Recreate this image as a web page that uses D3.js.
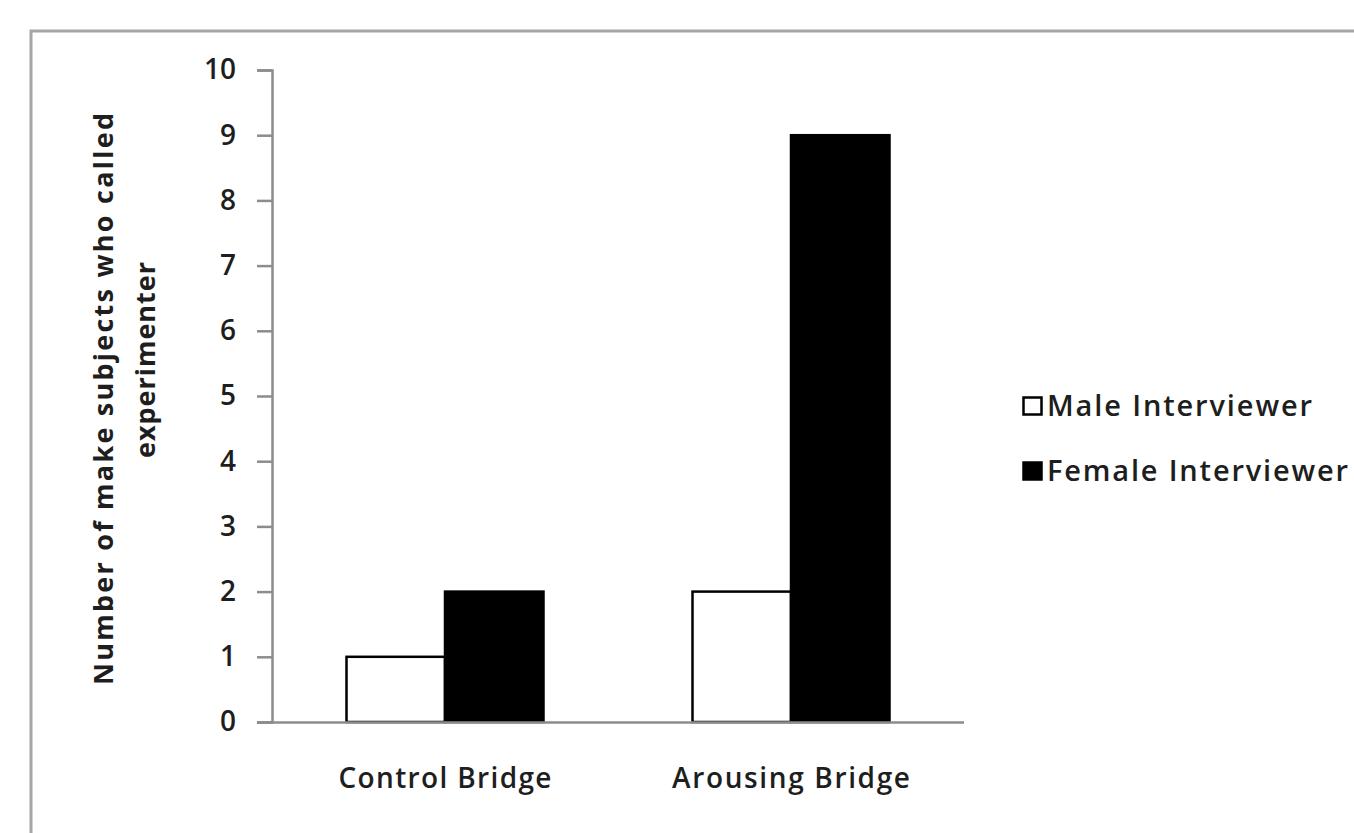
<!DOCTYPE html>
<html>
<head>
<meta charset="utf-8">
<script src="https://cdn.jsdelivr.net/npm/d3@7"></script>
<style>
  html, body { margin: 0; padding: 0; background: #fff; }
  svg { display: block; }
  text { font-family: "Open Sans", Lato, sans-serif; fill: #1e1e1e; }
</style>
</head>
<body>
<svg id="chart" width="1354" height="833"></svg>
<script>
const categories = ["Control Bridge", "Arousing Bridge"];
const seriesNames = ["Male Interviewer", "Female Interviewer"];
const maleValues = [1, 2];
const femaleValues = [2, 9];
const yTicks = [0, 1, 2, 3, 4, 5, 6, 7, 8, 9, 10];
const yLabelLines = ["Number of make subjects who called", "experimenter"];

const svg = d3.select("#chart");

// outer frame
svg.append("rect")
  .attr("x", 31).attr("y", 31)
  .attr("width", 1400).attr("height", 900)
  .attr("fill", "#fff")
  .attr("stroke", "#a6a6a6").attr("stroke-width", 3);

const plot = { left: 272, right: 964, top: 70, bottom: 722 };

const x0 = d3.scaleBand().domain(categories).range([plot.left, plot.right]).paddingInner(0).paddingOuter(0);
const x1 = d3.scaleBand().domain(seriesNames).range([0, 197]);
const y = d3.scaleLinear().domain([0, 10]).range([plot.bottom, plot.top]);

const series = [
  { name: seriesNames[0], values: maleValues, fill: "#fff" },
  { name: seriesNames[1], values: femaleValues, fill: "#000" }
];

// y axis
const yAxis = d3.axisLeft(y).tickValues(yTicks).tickSize(15).tickPadding(21).tickFormat(d3.format("d"));
const gy = svg.append("g").attr("transform", `translate(${plot.left},0)`).call(yAxis);
gy.select(".domain").attr("stroke", "#8c8c8c").attr("stroke-width", 2.5);
gy.selectAll(".tick line").attr("stroke", "#8c8c8c").attr("stroke-width", 2.5);
gy.selectAll(".tick text")
  .style("font-family", "'Open Sans', sans-serif")
  .style("font-size", "28px").style("font-weight", "600")
  .attr("fill", "#1e1e1e");

// bars
const groups = svg.append("g").selectAll("g")
  .data(categories).join("g")
  .attr("transform", (d) => `translate(${x0(d) + (x0.bandwidth() - 197) / 2},0)`);

groups.selectAll("rect")
  .data((c, i) => series.map(s => ({ name: s.name, value: s.values[i], fill: s.fill })))
  .join("rect")
  .attr("x", d => x1(d.name))
  .attr("y", d => y(d.value))
  .attr("width", x1.bandwidth())
  .attr("height", d => y(0) - y(d.value))
  .attr("fill", d => d.fill)
  .attr("stroke", "#000")
  .attr("stroke-width", 2.5);

// x axis
const xAxis = d3.axisBottom(x0).tickSize(0).tickPadding(46);
const gx = svg.append("g").attr("transform", `translate(0,${plot.bottom})`).call(xAxis);
gx.select(".domain").attr("stroke", "#8c8c8c").attr("stroke-width", 2.5)
  .attr("d", `M${plot.left - 15},0.5H${plot.right}`);
const catWidths = [213, 238];
gx.selectAll(".tick text")
  .style("font-family", "'Open Sans', sans-serif")
  .style("font-size", "28px").style("font-weight", "600")
  .attr("fill", "#1e1e1e")
  .attr("textLength", (d, i) => catWidths[i])
  .attr("lengthAdjust", "spacing");

// y label
const yl = svg.append("g");
yl.append("text")
  .attr("transform", "translate(113,399) rotate(-90)")
  .attr("text-anchor", "middle")
  .style("font-size", "27px").style("font-weight", "700")
  .attr("textLength", 572).attr("lengthAdjust", "spacing")
  .text(yLabelLines[0]);
yl.append("text")
  .attr("transform", "translate(155,360) rotate(-90)")
  .attr("text-anchor", "middle")
  .style("font-size", "27px").style("font-weight", "700")
  .attr("textLength", 196).attr("lengthAdjust", "spacing")
  .text(yLabelLines[1]);

// legend
const legendWidths = [265, 301];
const legend = svg.append("g").attr("transform", "translate(1022,396)");
const li = legend.selectAll("g").data(series).join("g")
  .attr("transform", (d, i) => `translate(0,${i * 65})`);
li.append("rect")
  .attr("x", 1.5).attr("y", 1.5).attr("width", 18).attr("height", 17)
  .attr("fill", d => d.fill).attr("stroke", "#000").attr("stroke-width", 2.5);
li.append("text")
  .attr("x", 25).attr("y", 10).attr("dy", "0.36em")
  .style("font-size", "29px").style("font-weight", "600")
  .attr("textLength", (d, i) => legendWidths[i]).attr("lengthAdjust", "spacing")
  .text(d => d.name);
</script>
</body>
</html>
